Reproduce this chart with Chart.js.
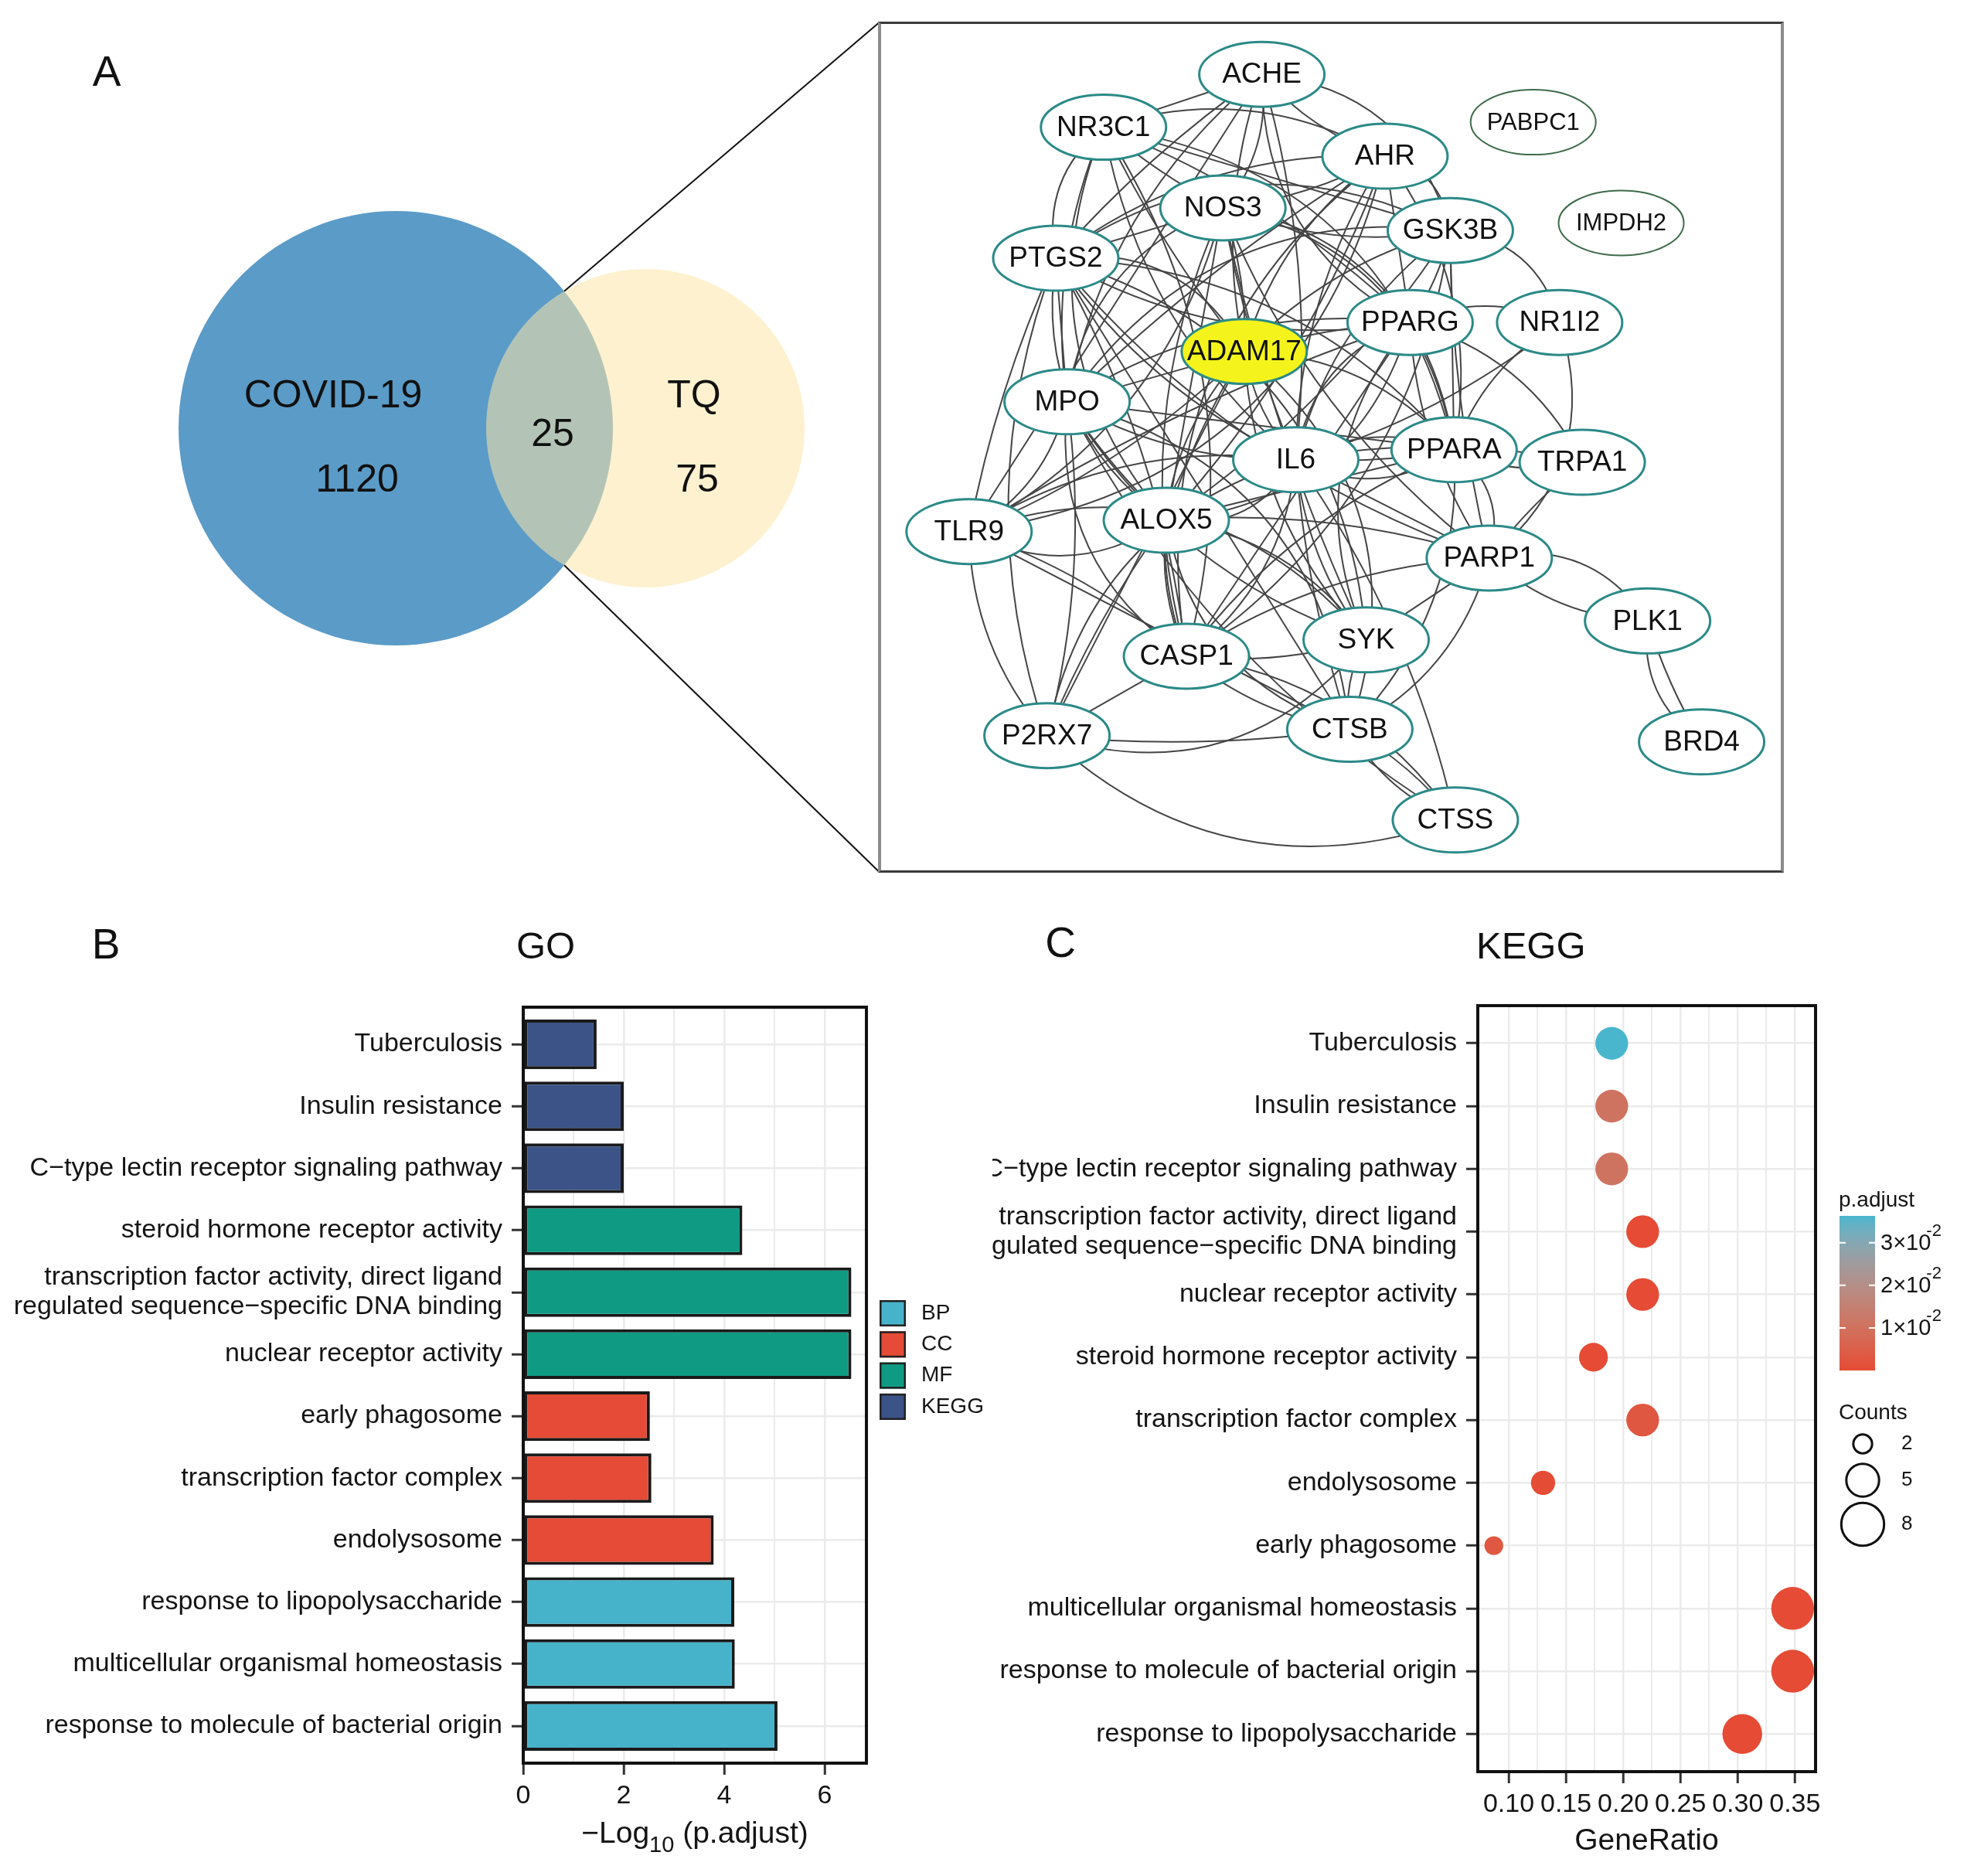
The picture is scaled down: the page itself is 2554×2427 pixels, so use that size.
<!DOCTYPE html>
<html lang="en">
<head>
<meta charset="UTF-8">
<title>COVID-19 / TQ targets: Venn, PPI network, GO and KEGG enrichment</title>
<script src="https://cdn.jsdelivr.net/npm/chart.js"></script>
<style>
  html, body { margin: 0; padding: 0; background: #fff; }
  body { position: relative; width: 2554px; height: 2427px; overflow: hidden;
         font-family: 'Liberation Sans', Arial, Helvetica, sans-serif; color: #111; }
  canvas { position: absolute; }
  .tag, .title { position: absolute; line-height: 1; white-space: nowrap; }
  .tag { font-size: 55px; transform: translate(-50%, -50%); }
  .title { font-size: 49px; transform: translateY(-50%); }
  #netFrame { position: absolute; left: 1136px; top: 28px; width: 1164px; height: 1095px;
              border-style: solid; border-width: 3px 4px; border-color: #3a3a3a #8c8c8c; }
  #netFrame canvas { left: 0; top: 0; }
</style>
</head>
<body>
  <div class="tag" style="left:138px;top:92px">A</div>
  <div class="tag" style="left:137px;top:1221px">B</div>
  <div class="tag" style="left:1372px;top:1219px">C</div>
  <div class="title" style="left:668px;top:1223px">GO</div>
  <div class="title" style="left:1910px;top:1223px">KEGG</div>

  <canvas id="venn" width="1140" height="1150" style="left:0;top:0"></canvas>
  <div id="netFrame"><canvas id="ppi" width="1164" height="1095"></canvas></div>
  <canvas id="go" width="1284" height="1187" style="left:0;top:1240px"></canvas>
  <canvas id="kegg" width="1270" height="1187" style="left:1284px;top:1240px"></canvas>

<script>
// ---------- data: Venn ----------
const vennSets = ['COVID-19', 'TQ'];
const vennCounts = [1120, 25, 75]; // COVID-19 only, shared, TQ only

// ---------- data: PPI network (layout units) ----------
const geneNames = ['ACHE', 'NR3C1', 'PABPC1', 'AHR', 'NOS3', 'GSK3B', 'IMPDH2', 'PTGS2', 'PPARG', 'NR1I2',
  'ADAM17', 'MPO', 'IL6', 'PPARA', 'TRPA1', 'TLR9', 'ALOX5', 'PARP1', 'PLK1', 'SYK',
  'CASP1', 'P2RX7', 'CTSB', 'BRD4', 'CTSS'];
const geneX = [305, 179, 521, 403, 274, 455, 591, 141, 423, 542,
  291, 150, 332, 458, 560, 72, 229, 486, 612, 388,
  245, 134, 375, 655, 459];
const geneY = [41, 83, 79, 106, 147, 165, 159, 187, 238, 238,
  261, 301, 347, 339, 349, 404, 395, 425, 475, 490,
  503, 566, 561, 571, 633];
const isolatedGenes = ['PABPC1', 'IMPDH2'];
const hubGene = 'ADAM17';
const ppiEdges = [
  'ACHE-NR3C1', 'ACHE-AHR', 'ACHE-NOS3', 'ACHE-PTGS2', 'ACHE-PPARG', 'ACHE-IL6', 'ACHE-MPO', 'ACHE-GSK3B', 'ACHE-TLR9', 'ACHE-ADAM17',
  'NR3C1-AHR', 'NR3C1-NOS3', 'NR3C1-PTGS2', 'NR3C1-PPARG', 'NR3C1-IL6', 'NR3C1-PPARA', 'NR3C1-GSK3B', 'NR3C1-MPO', 'NR3C1-CASP1', 'NR3C1-ADAM17', 'NR3C1-ALOX5',
  'AHR-NOS3', 'AHR-PTGS2', 'AHR-GSK3B', 'AHR-PPARG', 'AHR-IL6', 'AHR-PPARA', 'AHR-MPO', 'AHR-CASP1', 'AHR-ALOX5', 'AHR-ADAM17', 'AHR-TLR9',
  'NOS3-PTGS2', 'NOS3-GSK3B', 'NOS3-PPARG', 'NOS3-IL6', 'NOS3-MPO', 'NOS3-ADAM17', 'NOS3-CASP1', 'NOS3-PPARA', 'NOS3-ALOX5', 'NOS3-PARP1', 'NOS3-TLR9', 'NOS3-SYK',
  'GSK3B-PTGS2', 'GSK3B-PPARG', 'GSK3B-IL6', 'GSK3B-NR1I2', 'GSK3B-PPARA', 'GSK3B-ADAM17', 'GSK3B-CASP1', 'GSK3B-PARP1', 'GSK3B-MPO', 'GSK3B-ALOX5',
  'PTGS2-PPARG', 'PTGS2-ADAM17', 'PTGS2-MPO', 'PTGS2-IL6', 'PTGS2-PPARA', 'PTGS2-TLR9', 'PTGS2-ALOX5', 'PTGS2-CASP1', 'PTGS2-P2RX7', 'PTGS2-SYK', 'PTGS2-CTSB', 'PTGS2-PARP1',
  'PPARG-NR1I2', 'PPARG-ADAM17', 'PPARG-IL6', 'PPARG-PPARA', 'PPARG-MPO', 'PPARG-ALOX5', 'PPARG-CASP1', 'PPARG-PARP1', 'PPARG-TRPA1', 'PPARG-TLR9', 'PPARG-SYK',
  'NR1I2-IL6', 'NR1I2-PPARA', 'NR1I2-PARP1',
  'ADAM17-MPO', 'ADAM17-IL6', 'ADAM17-PPARA', 'ADAM17-ALOX5', 'ADAM17-CASP1', 'ADAM17-TLR9', 'ADAM17-SYK', 'ADAM17-CTSB', 'ADAM17-P2RX7',
  'MPO-IL6', 'MPO-TLR9', 'MPO-ALOX5', 'MPO-CASP1', 'MPO-P2RX7', 'MPO-SYK', 'MPO-CTSB', 'MPO-PPARA', 'MPO-CTSS',
  'IL6-PPARA', 'IL6-PPARA', 'IL6-PPARA', 'IL6-TRPA1', 'IL6-TLR9', 'IL6-ALOX5', 'IL6-PARP1', 'IL6-SYK', 'IL6-CASP1', 'IL6-CTSB', 'IL6-P2RX7', 'IL6-CTSS',
  'PPARA-TRPA1', 'PPARA-PARP1', 'PPARA-ALOX5', 'PPARA-CASP1', 'PPARA-CTSB',
  'TRPA1-PARP1',
  'TLR9-ALOX5', 'TLR9-CASP1', 'TLR9-P2RX7', 'TLR9-SYK', 'TLR9-CTSB',
  'ALOX5-CASP1', 'ALOX5-SYK', 'ALOX5-P2RX7', 'ALOX5-CTSB', 'ALOX5-PARP1',
  'PARP1-PLK1', 'PARP1-PLK1', 'PARP1-SYK', 'PARP1-CASP1', 'PARP1-CTSB',
  'PLK1-BRD4', 'PLK1-BRD4',
  'SYK-CASP1', 'SYK-CTSB', 'SYK-P2RX7',
  'CASP1-P2RX7', 'CASP1-CTSB', 'CASP1-CTSS',
  'P2RX7-CTSB', 'P2RX7-CTSS',
  'CTSB-CTSS', 'CTSB-CTSS'
];

// ---------- data: panel B (GO / KEGG bars) ----------
const groupNames = ['BP', 'CC', 'MF', 'KEGG'];
const goTerms = ['Tuberculosis', 'Insulin resistance', 'C\u2212type lectin receptor signaling pathway',
  'steroid hormone receptor activity',
  ['transcription factor activity, direct ligand', 'regulated sequence\u2212specific DNA binding'],
  'nuclear receptor activity', 'early phagosome', 'transcription factor complex', 'endolysosome',
  'response to lipopolysaccharide', 'multicellular organismal homeostasis', 'response to molecule of bacterial origin'];
const goGroups = ['KEGG', 'KEGG', 'KEGG', 'MF', 'MF', 'MF', 'CC', 'CC', 'CC', 'BP', 'BP', 'BP'];
const goNegLog10P = [1.46, 2.0, 2.0, 4.36, 6.53, 6.53, 2.52, 2.55, 3.79, 4.2, 4.21, 5.06];
const goMajorTicks = [0, 2, 4, 6];
const goMinorTicks = [1, 3, 5];

// ---------- data: panel C (dot plot) ----------
const dotTerms = ['Tuberculosis', 'Insulin resistance', 'C\u2212type lectin receptor signaling pathway',
  ['transcription factor activity, direct ligand', 'regulated sequence\u2212specific DNA binding'],
  'nuclear receptor activity', 'steroid hormone receptor activity', 'transcription factor complex',
  'endolysosome', 'early phagosome', 'multicellular organismal homeostasis',
  'response to molecule of bacterial origin', 'response to lipopolysaccharide'];
const dotGeneRatio = [0.190, 0.190, 0.190, 0.217, 0.217, 0.174, 0.217, 0.130, 0.087, 0.348, 0.348, 0.304];
const dotCounts = [5, 5, 5, 5, 5, 4, 5, 3, 2, 8, 8, 7];
const dotPAdjust = [0.0363, 0.0107, 0.0107, 3e-7, 3e-7, 4.4e-5, 0.0028, 1.6e-4, 0.0030, 6.2e-5, 8.7e-6, 6.3e-5];
const ratioMajorTicks = [0.10, 0.15, 0.20, 0.25, 0.30, 0.35];
const ratioMinorTicks = [0.125, 0.175, 0.225, 0.275, 0.325];
const pBreaks = [0.01, 0.02, 0.03];
const countBreaks = [2, 5, 8];

// ---------- styling ----------
const FONT = "'Liberation Sans', Arial, Helvetica, sans-serif";
const INK = '#141414';
const GRID = '#ebebeb';
const TICK = '#333333';
const groupColors = { BP: '#47B3CA', CC: '#E54B36', MF: '#0F9B83', KEGG: '#3B5387' };
const LOW_P = '#E54B35', HIGH_P = '#4AB6CE';

Chart.defaults.font.family = FONT;
Chart.defaults.color = INK;
Chart.defaults.plugins.legend.display = false;
Chart.defaults.plugins.tooltip.enabled = false;

const baseOptions = { responsive: false, animation: false, devicePixelRatio: 1, events: [] };

// Lab interpolation like ggplot's continuous colour scale
function hexToRgb(h) { const n = parseInt(h.slice(1), 16); return [(n >> 16) & 255, (n >> 8) & 255, n & 255]; }
function rgbToLab([r, g, b]) {
  const lin = v => { v /= 255; return v <= 0.04045 ? v / 12.92 : Math.pow((v + 0.055) / 1.055, 2.4); };
  const R = lin(r), G = lin(g), B = lin(b);
  const X = (R * 0.4124 + G * 0.3576 + B * 0.1805) / 0.95047;
  const Y = R * 0.2126 + G * 0.7152 + B * 0.0722;
  const Z = (R * 0.0193 + G * 0.1192 + B * 0.9505) / 1.08883;
  const f = t => t > 0.008856 ? Math.cbrt(t) : 7.787 * t + 16 / 116;
  return [116 * f(Y) - 16, 500 * (f(X) - f(Y)), 200 * (f(Y) - f(Z))];
}
function labToRgb([L, a, b]) {
  const fy = (L + 16) / 116, fx = fy + a / 500, fz = fy - b / 200;
  const inv = t => t * t * t > 0.008856 ? t * t * t : (t - 16 / 116) / 7.787;
  const X = inv(fx) * 0.95047, Y = inv(fy), Z = inv(fz) * 1.08883;
  const R = X * 3.2406 - Y * 1.5372 - Z * 0.4986;
  const G = -X * 0.9689 + Y * 1.8758 + Z * 0.0415;
  const B = X * 0.0557 - Y * 0.2040 + Z * 1.0570;
  const gam = v => { v = v <= 0.0031308 ? 12.92 * v : 1.055 * Math.pow(v, 1 / 2.4) - 0.055; return Math.round(Math.min(1, Math.max(0, v)) * 255); };
  return [gam(R), gam(G), gam(B)];
}
const labLow = rgbToLab(hexToRgb(LOW_P)), labHigh = rgbToLab(hexToRgb(HIGH_P));
const pMin = Math.min(...dotPAdjust), pMax = Math.max(...dotPAdjust);
function pColor(p) {
  const t = (p - pMin) / (pMax - pMin);
  const c = labToRgb(labLow.map((v, i) => v + (labHigh[i] - v) * t));
  return `rgb(${c[0]},${c[1]},${c[2]})`;
}
const sizeForCount = c => 11 * Math.sqrt(c) - 3.4;

// ---------- panel A: Venn ----------
const VENN_CIRCLES = [{ x: 512, y: 554, r: 281, color: '#5B9BC7' }, { x: 835, y: 554, r: 206, color: 'rgba(252,229,167,0.55)' }];
const VENN_LABEL_POS = [{ x: 431, y: 513 }, { x: 462, y: 622 }, { x: 715, y: 563 }, { x: 898, y: 513 }, { x: 902, y: 622 }];
const NET_CORNERS = [{ x: 1137, y: 29.5 }, { x: 1137, y: 1127.5 }];

function circleIntersections(c1, c2) {
  const dx = c2.x - c1.x, dy = c2.y - c1.y, d = Math.hypot(dx, dy);
  const a = (c1.r * c1.r - c2.r * c2.r + d * d) / (2 * d);
  const h = Math.sqrt(c1.r * c1.r - a * a);
  const mx = c1.x + a * dx / d, my = c1.y + a * dy / d;
  return [{ x: mx + h * dy / d, y: my - h * dx / d }, { x: mx - h * dy / d, y: my + h * dx / d }];
}
const cross = circleIntersections(VENN_CIRCLES[0], VENN_CIRCLES[1]).sort((p, q) => p.y - q.y);

const vennLabels = {
  id: 'vennLabels',
  afterDatasetsDraw(chart) {
    const { ctx, scales: { x, y } } = chart;
    const texts = [vennSets[0], vennCounts[0], vennCounts[1], vennSets[1], vennCounts[2]];
    ctx.save();
    ctx.fillStyle = '#111';
    ctx.font = `50px ${FONT}`;
    ctx.textAlign = 'center';
    ctx.textBaseline = 'middle';
    texts.forEach((t, i) => ctx.fillText(String(t), x.getPixelForValue(VENN_LABEL_POS[i].x), y.getPixelForValue(VENN_LABEL_POS[i].y)));
    ctx.restore();
  }
};

new Chart(document.getElementById('venn'), {
  type: 'scatter',
  data: {
    datasets: [
      { type: 'line', data: [cross[0], NET_CORNERS[0]], borderColor: '#111', borderWidth: 2, pointRadius: 0 },
      { type: 'line', data: [cross[1], NET_CORNERS[1]], borderColor: '#111', borderWidth: 2, pointRadius: 0 },
      {
        data: VENN_CIRCLES.map(c => ({ x: c.x, y: c.y })),
        backgroundColor: VENN_CIRCLES.map(c => c.color),
        borderWidth: 0,
        pointRadius: ctx => {
          const s = ctx.chart.scales.x;
          return s.getPixelForValue(VENN_CIRCLES[ctx.dataIndex].r) - s.getPixelForValue(0);
        }
      }
    ]
  },
  options: {
    ...baseOptions,
    layout: { padding: 0 },
    scales: {
      x: { type: 'linear', min: 0, max: 1140, display: false },
      y: { type: 'linear', min: 0, max: 1150, reverse: true, display: false }
    }
  },
  plugins: [vennLabels]
});

// ---------- panel A: PPI network ----------
const geneIndex = Object.fromEntries(geneNames.map((g, i) => [g, i]));
const EDGE_BENDS = [0, 0.14, -0.22, 0.06, 0.3, -0.1, 0.18, -0.34];

const ppiDraw = {
  id: 'ppiDraw',
  beforeDatasetsDraw(chart) {
    const { ctx } = chart;
    const pts = chart.getDatasetMeta(0).data;
    ctx.save();
    ctx.strokeStyle = '#454545';
    ctx.lineWidth = 2;
    ppiEdges.forEach((e, i) => {
      const [a, b] = e.split('-');
      const p = pts[geneIndex[a]], q = pts[geneIndex[b]];
      const bend = EDGE_BENDS[i % EDGE_BENDS.length];
      const cx = (p.x + q.x) / 2 - (q.y - p.y) * bend;
      const cy = (p.y + q.y) / 2 + (q.x - p.x) * bend;
      ctx.beginPath();
      ctx.moveTo(p.x, p.y);
      ctx.quadraticCurveTo(cx, cy, q.x, q.y);
      ctx.stroke();
    });
    ctx.restore();
  },
  afterDatasetsDraw(chart) {
    const { ctx } = chart;
    const pts = chart.getDatasetMeta(0).data;
    ctx.save();
    ctx.textAlign = 'center';
    ctx.textBaseline = 'middle';
    geneNames.forEach((g, i) => {
      const p = pts[i];
      const lone = isolatedGenes.includes(g);
      ctx.beginPath();
      ctx.ellipse(p.x, p.y, 81, 42, 0, 0, Math.PI * 2);
      ctx.fillStyle = g === hubGene ? '#F4F41C' : '#ffffff';
      ctx.fill();
      ctx.lineWidth = lone ? 2 : 3;
      ctx.strokeStyle = lone ? '#3E6B4A' : '#2B8A87';
      ctx.stroke();
      ctx.fillStyle = '#111';
      ctx.font = `${lone ? 31 : 37}px ${FONT}`;
      ctx.fillText(g, p.x, p.y + 1);
    });
    ctx.restore();
  }
};

new Chart(document.getElementById('ppi'), {
  type: 'scatter',
  data: { datasets: [{ data: geneNames.map((g, i) => ({ x: geneX[i], y: geneY[i] })), pointRadius: 0 }] },
  options: {
    ...baseOptions,
    layout: { padding: 0 },
    scales: {
      x: { type: 'linear', min: 2, max: 718, display: false },
      y: { type: 'linear', min: 1, max: 673, reverse: true, display: false }
    }
  },
  plugins: [ppiDraw]
});

// ---------- shared axis helpers (ggplot-like) ----------
function rowAxis(labels, width) {
  return {
    type: 'linear', min: 0.4, max: labels.length + 0.6, reverse: true, offset: false,
    afterBuildTicks: s => { s.ticks = labels.map((_, i) => ({ value: i + 1 })); },
    afterFit: s => { s.width = width; },
    border: { display: false },
    grid: { offset: false, color: GRID, lineWidth: 2.5, tickLength: 15, tickWidth: 3, tickColor: TICK },
    ticks: { autoSkip: false, padding: 12, color: INK, font: { size: 34, lineHeight: 1.12 }, callback: v => labels[v - 1] }
  };
}
function valueAxis(min, max, major, minor, height, fmt) {
  const isMajor = v => major.includes(v);
  return {
    type: 'linear', min, max, offset: false,
    afterBuildTicks: s => { s.ticks = major.concat(minor).sort((a, b) => a - b).map(v => ({ value: v })); },
    afterFit: s => { s.height = height; },
    border: { display: false },
    grid: {
      offset: false, color: GRID, tickLength: 15, tickWidth: 3,
      lineWidth: c => (c.tick && isMajor(c.tick.value)) ? 2.5 : 2,
      tickColor: c => (c.tick && isMajor(c.tick.value)) ? TICK : 'rgba(0,0,0,0)'
    },
    ticks: { autoSkip: false, maxRotation: 0, padding: 7, color: INK, font: { size: 34 }, callback: v => isMajor(v) ? fmt(v) : '' }
  };
}
const panelBorder = {
  id: 'panelBorder',
  afterDatasetsDraw(chart) {
    const { ctx, chartArea: a } = chart;
    ctx.save();
    ctx.strokeStyle = '#111';
    ctx.lineWidth = 4;
    ctx.strokeRect(a.left, a.top, a.right - a.left, a.bottom - a.top);
    ctx.restore();
  }
};
function drawRichText(ctx, parts, cx, baseline) {
  let w = 0;
  parts.forEach(([t, size]) => { ctx.font = `${size}px ${FONT}`; w += ctx.measureText(t).width; });
  let x = cx - w / 2;
  parts.forEach(([t, size, dy]) => {
    ctx.font = `${size}px ${FONT}`;
    ctx.fillText(t, x, baseline + dy);
    x += ctx.measureText(t).width;
  });
}

// ---------- panel B ----------
const goExtras = {
  id: 'goExtras',
  afterDraw(chart) {
    const { ctx, chartArea: a } = chart;
    ctx.save();
    ctx.fillStyle = INK;
    ctx.textAlign = 'left';
    ctx.textBaseline = 'alphabetic';
    drawRichText(ctx, [['\u2212Log', 39, 0], ['10', 29, 12], [' (p.adjust)', 39, 0]], (a.left + a.right) / 2, a.bottom + 103);
    // fill legend
    ctx.textBaseline = 'middle';
    groupNames.forEach((g, i) => {
      const cy = a.top + 396 + i * 40.3, x = a.right + 17;
      ctx.fillStyle = groupColors[g];
      ctx.fillRect(x, cy - 17, 34, 34);
      ctx.lineWidth = 2.5;
      ctx.strokeStyle = '#222';
      ctx.strokeRect(x + 1.25, cy - 15.75, 31.5, 31.5);
      ctx.fillStyle = INK;
      ctx.font = `28px ${FONT}`;
      ctx.fillText(g, a.right + 71, cy);
    });
    ctx.restore();
  }
};

new Chart(document.getElementById('go'), {
  type: 'bar',
  data: {
    datasets: [{
      data: goTerms.map((t, i) => ({ x: goNegLog10P[i], y: i + 1 })),
      backgroundColor: goGroups.map(g => groupColors[g]),
      borderColor: '#1a1a1a', borderWidth: 4, borderSkipped: false,
      barPercentage: 0.8, categoryPercentage: 1
    }]
  },
  options: {
    ...baseOptions,
    indexAxis: 'y',
    layout: { padding: { top: 63, right: 163, left: 0, bottom: 0 } },
    scales: {
      x: valueAxis(0, 6.83, goMajorTicks, goMinorTicks, 146, v => String(v)),
      y: rowAxis(goTerms, 677)
    }
  },
  plugins: [panelBorder, goExtras]
});

// ---------- panel C ----------
const keggExtras = {
  id: 'keggExtras',
  afterDraw(chart) {
    const { ctx, chartArea: a } = chart;
    ctx.save();
    ctx.fillStyle = INK;
    ctx.textAlign = 'left';
    ctx.textBaseline = 'alphabetic';
    drawRichText(ctx, [['GeneRatio', 39, 0]], (a.left + a.right) / 2, a.bottom + 101);

    // colour bar
    const x0 = a.right + 31, top = a.top + 272, h = 200, w = 46;
    ctx.textBaseline = 'middle';
    ctx.font = `28px ${FONT}`;
    ctx.fillText('p.adjust', x0 - 1, a.top + 252);
    const grad = ctx.createLinearGradient(0, top + h, 0, top);
    for (let i = 0; i <= 20; i++) grad.addColorStop(i / 20, pColor(pMin + (pMax - pMin) * i / 20));
    ctx.fillStyle = grad;
    ctx.fillRect(x0, top, w, h);
    pBreaks.forEach(v => {
      const y = top + h - (v - pMin) / (pMax - pMin) * h;
      ctx.strokeStyle = '#ffffff';
      ctx.lineWidth = 2;
      ctx.beginPath();
      ctx.moveTo(x0, y); ctx.lineTo(x0 + 8, y);
      ctx.moveTo(x0 + w - 8, y); ctx.lineTo(x0 + w, y);
      ctx.stroke();
      const exp = Math.floor(Math.log10(v) + 1e-9);
      const mant = Math.round(v / Math.pow(10, exp));
      ctx.fillStyle = INK;
      ctx.font = `29px ${FONT}`;
      const base = `${mant}\u00d710`;
      ctx.fillText(base, a.right + 84, y + 1);
      const bw = ctx.measureText(base).width;
      ctx.font = `22px ${FONT}`;
      ctx.fillText(String(exp), a.right + 84 + bw - 6, y - 15);
    });

    // size legend
    ctx.fillStyle = INK;
    ctx.font = `28px ${FONT}`;
    ctx.fillText('Counts', x0 - 1, a.top + 527);
    const rowsY = [567, 614, 671];
    countBreaks.forEach((c, i) => {
      const cy = a.top + rowsY[i];
      ctx.beginPath();
      ctx.arc(a.right + 61, cy, sizeForCount(c), 0, Math.PI * 2);
      ctx.lineWidth = 3;
      ctx.strokeStyle = '#111';
      ctx.stroke();
      ctx.font = `26px ${FONT}`;
      ctx.fillText(String(c), a.right + 111, cy);
    });
    ctx.restore();
  }
};

new Chart(document.getElementById('kegg'), {
  type: 'scatter',
  data: {
    datasets: [{
      data: dotTerms.map((t, i) => ({ x: dotGeneRatio[i], y: i + 1 })),
      pointRadius: dotCounts.map(sizeForCount),
      backgroundColor: dotPAdjust.map(pColor),
      borderWidth: 0
    }]
  },
  options: {
    ...baseOptions,
    layout: { padding: { top: 61, right: 205, left: 0, bottom: 0 } },
    scales: {
      x: valueAxis(0.073, 0.368, ratioMajorTicks, ratioMinorTicks, 135, v => v.toFixed(2)),
      y: rowAxis(dotTerms, 628)
    }
  },
  plugins: [panelBorder, keggExtras]
});
</script>
</body>
</html>
